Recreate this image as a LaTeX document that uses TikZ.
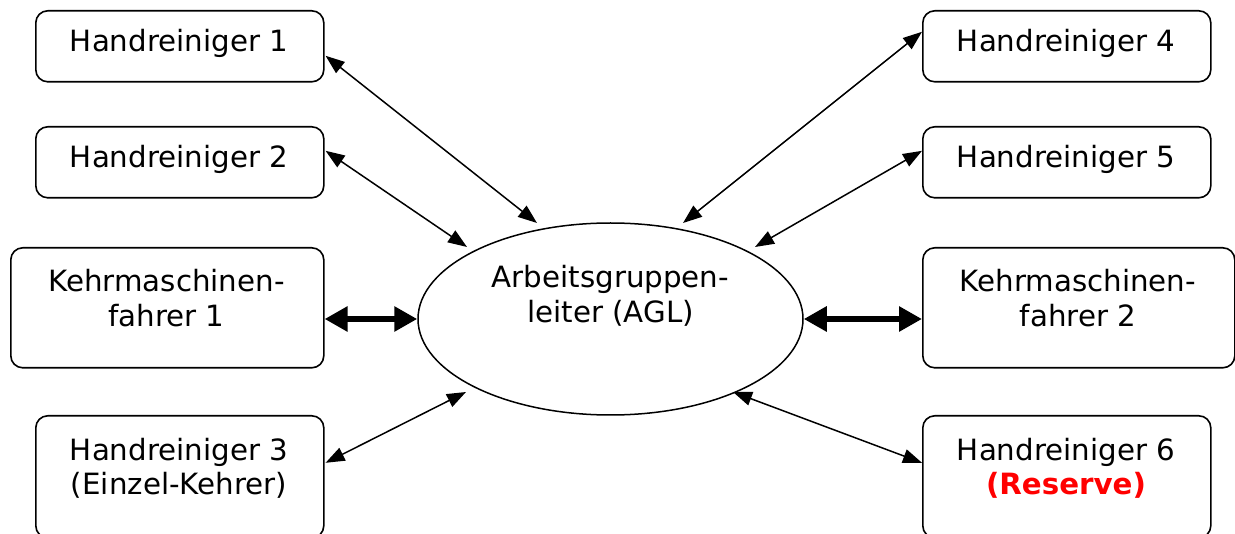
\documentclass[tikz,border=0pt]{standalone}
\usepackage{fontspec}
\setmainfont{DejaVu Sans}
\usetikzlibrary{arrows.meta,shapes.geometric,calc}
\begin{document}
\begin{tikzpicture}[x=1pt,y=-1pt,
  box/.style={draw,rounded corners=12pt,line width=1.6pt,inner sep=0pt,anchor=north west},
  txt/.style={align=center,anchor=base,inner sep=0pt,font=\fontsize{29.3}{35}\selectfont},
  thinarrow/.style={line width=1.5pt,{Triangle[length=19pt,width=14pt]}-{Triangle[length=19pt,width=14pt]}},
  thickarrow/.style={line width=6pt,{Triangle[length=23pt,width=24pt]}-{Triangle[length=23pt,width=24pt]}}]
\useasboundingbox (0,0) rectangle (1235,534);
\clip (0,0) rectangle (1235,534);
% boxes
\node[box,minimum width=288pt,minimum height=71pt] (h1) at (35,10) {};
\node[box,minimum width=288pt,minimum height=71pt] (h2) at (35,126) {};
\node[box,minimum width=313pt,minimum height=120pt] (km1) at (10,247) {};
\node[box,minimum width=288pt,minimum height=122pt] (h3) at (35,415) {};
\node[box,minimum width=288pt,minimum height=71pt] (h4) at (922,10) {};
\node[box,minimum width=288pt,minimum height=71pt] (h5) at (922,126) {};
\node[box,minimum width=312pt,minimum height=120pt] (km2) at (922,247) {};
\node[box,minimum width=288pt,minimum height=122pt] (h6) at (922,415) {};
\node[draw,ellipse,line width=1.5pt,minimum width=385pt,minimum height=192pt,inner sep=0pt] (agl) at (610.5,319) {};
% texts (base = baseline of last line)
\node[txt] (h1t) at (179,52) {Handreiniger 1};
\node[txt] (h2t) at (179,168) {Handreiniger 2};
\node[txt] (km1t) at (166.5,327) {Kehrmaschinen-\\fahrer 1};
\node[txt] (h3t) at (179,495) {Handreiniger 3\\(Einzel-Kehrer)};
\node[txt] (h4t) at (1066,52) {Handreiniger 4};
\node[txt] (h5t) at (1066,168) {Handreiniger 5};
\node[txt] (km2t) at (1078,327) {Kehrmaschinen-\\fahrer 2};
\node[txt] (h6t) at (1066,495) {Handreiniger 6\\\textcolor{red}{\bfseries (Reserve)}};
\node[txt] (aglt) at (610.5,323) {Arbeitsgruppen-\\leiter (AGL)};
% connectors
\draw[thinarrow] ($(h1.east)+(1,9.5)$) -- ($(agl.center)+(-73.5,-96)$);
\draw[thinarrow] ($(h2.east)+(1,-11.5)$) -- ($(agl.center)+(-143.5,-72)$);
\draw[thinarrow] ($(h3.east)+(1,-14)$) -- ($(agl.center)+(-144.5,73)$);
\draw[thinarrow] ($(h4.west)+(0,-14.5)$) -- ($(agl.center)+(72.5,-96)$);
\draw[thinarrow] ($(h5.west)+(0,-11.5)$) -- ($(agl.center)+(144.5,-72)$);
\draw[thinarrow] ($(h6.west)+(0,-14)$) -- ($(agl.center)+(122.5,73)$);
\draw[thickarrow] (agl.west -| km1.east) -- (agl.west);
\draw[thickarrow] (agl.east) -- (agl.east -| km2.west);
\end{tikzpicture}
\end{document}
